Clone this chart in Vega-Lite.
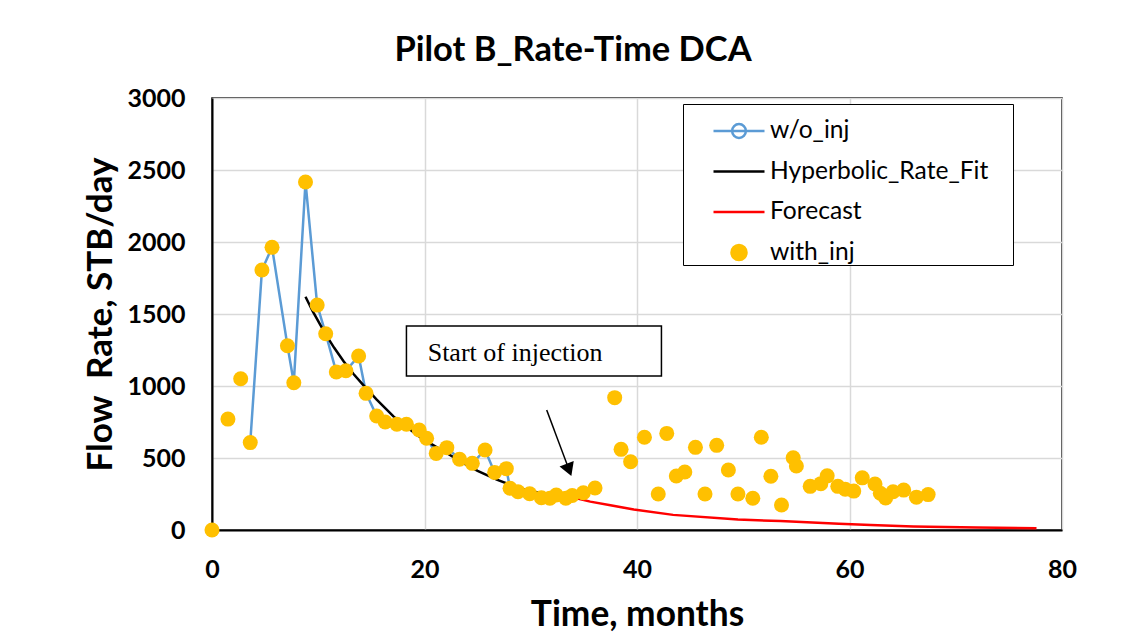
{
  "$schema": "https://vega.github.io/schema/vega-lite/v6.json",
  "width": 850,
  "height": 432,
  "autosize": "none",
  "padding": {"left": 212, "top": 98, "right": 76, "bottom": 107},
  "background": "white",
  "title": {"text": "Pilot B_Rate-Time DCA", "font": "Lato", "fontSize": 34.5, "fontWeight": "bold", "color": "black", "anchor": "middle", "dx": -64, "offset": 18},
  "config": {"view": {"stroke": "black", "strokeWidth": 1.5}, "font": "Lato"},
  "datasets": {
    "with_inj": [
      {"series": "with_inj", "t": 0, "q": 0}, {"series": "with_inj", "t": 1.5, "q": 770}, {"series": "with_inj", "t": 2.7, "q": 1050},
      {"series": "with_inj", "t": 3.6, "q": 607}, {"series": "with_inj", "t": 4.7, "q": 1806}, {"series": "with_inj", "t": 5.65, "q": 1963},
      {"series": "with_inj", "t": 7.1, "q": 1280}, {"series": "with_inj", "t": 7.7, "q": 1023}, {"series": "with_inj", "t": 8.8, "q": 2417},
      {"series": "with_inj", "t": 9.9, "q": 1562}, {"series": "with_inj", "t": 10.7, "q": 1363}, {"series": "with_inj", "t": 11.7, "q": 1097},
      {"series": "with_inj", "t": 12.6, "q": 1106}, {"series": "with_inj", "t": 13.8, "q": 1208}, {"series": "with_inj", "t": 14.5, "q": 949},
      {"series": "with_inj", "t": 15.5, "q": 792}, {"series": "with_inj", "t": 16.3, "q": 750}, {"series": "with_inj", "t": 17.4, "q": 734},
      {"series": "with_inj", "t": 18.3, "q": 734}, {"series": "with_inj", "t": 19.5, "q": 694}, {"series": "with_inj", "t": 20.2, "q": 637},
      {"series": "with_inj", "t": 21.1, "q": 532}, {"series": "with_inj", "t": 22.1, "q": 572}, {"series": "with_inj", "t": 23.3, "q": 491},
      {"series": "with_inj", "t": 24.5, "q": 463}, {"series": "with_inj", "t": 25.7, "q": 556}, {"series": "with_inj", "t": 26.6, "q": 400},
      {"series": "with_inj", "t": 27.7, "q": 426}, {"series": "with_inj", "t": 28.05, "q": 290}, {"series": "with_inj", "t": 28.8, "q": 266},
      {"series": "with_inj", "t": 29.9, "q": 252}, {"series": "with_inj", "t": 31.0, "q": 224}, {"series": "with_inj", "t": 31.8, "q": 220},
      {"series": "with_inj", "t": 32.4, "q": 243}, {"series": "with_inj", "t": 33.3, "q": 220}, {"series": "with_inj", "t": 33.9, "q": 240},
      {"series": "with_inj", "t": 34.95, "q": 259}, {"series": "with_inj", "t": 36.05, "q": 292}, {"series": "with_inj", "t": 37.9, "q": 919},
      {"series": "with_inj", "t": 38.5, "q": 560}, {"series": "with_inj", "t": 39.4, "q": 474}, {"series": "with_inj", "t": 40.7, "q": 644},
      {"series": "with_inj", "t": 42.0, "q": 250}, {"series": "with_inj", "t": 42.8, "q": 671}, {"series": "with_inj", "t": 43.7, "q": 375},
      {"series": "with_inj", "t": 44.5, "q": 403}, {"series": "with_inj", "t": 45.5, "q": 574}, {"series": "with_inj", "t": 46.4, "q": 250},
      {"series": "with_inj", "t": 47.5, "q": 588}, {"series": "with_inj", "t": 48.6, "q": 417}, {"series": "with_inj", "t": 49.5, "q": 250},
      {"series": "with_inj", "t": 50.9, "q": 220}, {"series": "with_inj", "t": 51.7, "q": 644}, {"series": "with_inj", "t": 52.6, "q": 373},
      {"series": "with_inj", "t": 53.6, "q": 174}, {"series": "with_inj", "t": 54.7, "q": 502}, {"series": "with_inj", "t": 55.0, "q": 444},
      {"series": "with_inj", "t": 56.3, "q": 303}, {"series": "with_inj", "t": 57.3, "q": 322}, {"series": "with_inj", "t": 57.9, "q": 376},
      {"series": "with_inj", "t": 58.9, "q": 303}, {"series": "with_inj", "t": 59.6, "q": 283}, {"series": "with_inj", "t": 60.4, "q": 270},
      {"series": "with_inj", "t": 61.2, "q": 362}, {"series": "with_inj", "t": 62.4, "q": 319}, {"series": "with_inj", "t": 62.9, "q": 255},
      {"series": "with_inj", "t": 63.4, "q": 222}, {"series": "with_inj", "t": 64.1, "q": 266}, {"series": "with_inj", "t": 65.1, "q": 277},
      {"series": "with_inj", "t": 66.3, "q": 228}, {"series": "with_inj", "t": 67.4, "q": 246}
    ],
    "wo_inj": [
      {"series": "w/o_inj", "t": 3.6, "q": 607}, {"series": "w/o_inj", "t": 4.7, "q": 1806}, {"series": "w/o_inj", "t": 5.65, "q": 1963},
      {"series": "w/o_inj", "t": 7.1, "q": 1280}, {"series": "w/o_inj", "t": 7.7, "q": 1023}, {"series": "w/o_inj", "t": 8.8, "q": 2417},
      {"series": "w/o_inj", "t": 9.9, "q": 1562}, {"series": "w/o_inj", "t": 10.7, "q": 1363}, {"series": "w/o_inj", "t": 11.7, "q": 1097},
      {"series": "w/o_inj", "t": 12.6, "q": 1106}, {"series": "w/o_inj", "t": 13.8, "q": 1208}, {"series": "w/o_inj", "t": 14.5, "q": 949},
      {"series": "w/o_inj", "t": 15.5, "q": 792}, {"series": "w/o_inj", "t": 16.3, "q": 750}, {"series": "w/o_inj", "t": 17.4, "q": 734},
      {"series": "w/o_inj", "t": 18.3, "q": 734}, {"series": "w/o_inj", "t": 19.5, "q": 694}, {"series": "w/o_inj", "t": 20.2, "q": 637},
      {"series": "w/o_inj", "t": 21.1, "q": 532}, {"series": "w/o_inj", "t": 22.1, "q": 572}, {"series": "w/o_inj", "t": 23.3, "q": 491},
      {"series": "w/o_inj", "t": 24.5, "q": 463}, {"series": "w/o_inj", "t": 25.7, "q": 556}, {"series": "w/o_inj", "t": 26.6, "q": 400},
      {"series": "w/o_inj", "t": 27.7, "q": 426}, {"series": "w/o_inj", "t": 28.05, "q": 290}, {"series": "w/o_inj", "t": 28.8, "q": 266},
      {"series": "w/o_inj", "t": 29.9, "q": 252}, {"series": "w/o_inj", "t": 31.0, "q": 224}, {"series": "w/o_inj", "t": 31.8, "q": 220},
      {"series": "w/o_inj", "t": 32.4, "q": 243}, {"series": "w/o_inj", "t": 33.3, "q": 220}, {"series": "w/o_inj", "t": 33.9, "q": 240},
      {"series": "w/o_inj", "t": 34.95, "q": 259}, {"series": "w/o_inj", "t": 36.05, "q": 292}
    ],
    "fit": [
      {"series": "Hyperbolic_Rate_Fit", "t": 8.8, "q": 1620}, {"series": "Hyperbolic_Rate_Fit", "t": 9.5, "q": 1516},
      {"series": "Hyperbolic_Rate_Fit", "t": 10.6, "q": 1370}, {"series": "Hyperbolic_Rate_Fit", "t": 11.5, "q": 1265},
      {"series": "Hyperbolic_Rate_Fit", "t": 12.4, "q": 1170}, {"series": "Hyperbolic_Rate_Fit", "t": 13.3, "q": 1085},
      {"series": "Hyperbolic_Rate_Fit", "t": 14.2, "q": 1010}, {"series": "Hyperbolic_Rate_Fit", "t": 15.5, "q": 905},
      {"series": "Hyperbolic_Rate_Fit", "t": 17.1, "q": 787}, {"series": "Hyperbolic_Rate_Fit", "t": 18.5, "q": 705},
      {"series": "Hyperbolic_Rate_Fit", "t": 19.5, "q": 650}, {"series": "Hyperbolic_Rate_Fit", "t": 20.5, "q": 603},
      {"series": "Hyperbolic_Rate_Fit", "t": 22.0, "q": 538}, {"series": "Hyperbolic_Rate_Fit", "t": 23.7, "q": 463},
      {"series": "Hyperbolic_Rate_Fit", "t": 25.0, "q": 410}, {"series": "Hyperbolic_Rate_Fit", "t": 26.8, "q": 350},
      {"series": "Hyperbolic_Rate_Fit", "t": 28.3, "q": 308}, {"series": "Hyperbolic_Rate_Fit", "t": 29.9, "q": 272},
      {"series": "Hyperbolic_Rate_Fit", "t": 31.5, "q": 246}, {"series": "Hyperbolic_Rate_Fit", "t": 33.0, "q": 230},
      {"series": "Hyperbolic_Rate_Fit", "t": 34.3, "q": 220}
    ],
    "forecast": [
      {"series": "Forecast", "t": 34.3, "q": 220}, {"series": "Forecast", "t": 35.6, "q": 197}, {"series": "Forecast", "t": 37.5, "q": 172},
      {"series": "Forecast", "t": 39.7, "q": 142}, {"series": "Forecast", "t": 43.4, "q": 105}, {"series": "Forecast", "t": 49.5, "q": 73},
      {"series": "Forecast", "t": 53.5, "q": 62}, {"series": "Forecast", "t": 59.0, "q": 43}, {"series": "Forecast", "t": 62.0, "q": 35},
      {"series": "Forecast", "t": 66.0, "q": 25}, {"series": "Forecast", "t": 72.0, "q": 18}, {"series": "Forecast", "t": 77.6, "q": 12}
    ],
    "box": [{"t": 18.3, "t2": 42.3, "q": 1069, "q2": 1417, "label": "Start of injection", "lt": 20.3, "lq": 1176}],
    "arrow": [{"t": 31.5, "q": 833, "t2": 33.5, "q2": 440, "ht": 33.6, "hq": 418}]
  },
  "layer": [
    {
      "data": {"name": "wo_inj"},
      "mark": {"type": "line", "strokeWidth": 2.5},
      "encoding": {
        "x": {"field": "t", "type": "quantitative", "scale": {"domain": [0, 80], "nice": false},
          "axis": {"values": [0, 20, 40, 60, 80], "title": "Time, months", "grid": true, "gridColor": "#D9D9D9", "gridWidth": 1.5,
            "domainColor": "black", "domainWidth": 2, "ticks": false, "tickSize": 0, "labelFlush": false,
            "labelFont": "Lato", "labelFontSize": 25, "labelFontWeight": "bold", "labelColor": "black", "labelPadding": 27,
            "titleFont": "Lato", "titleFontSize": 35.3, "titleFontWeight": "bold", "titleColor": "black", "titleX": 425, "titleY": 84, "titleBaseline": "middle"}},
        "y": {"field": "q", "type": "quantitative", "scale": {"domain": [0, 3000], "nice": false},
          "axis": {"values": [0, 500, 1000, 1500, 2000, 2500, 3000], "title": "Flow\u00a0 Rate, STB/day", "grid": true, "gridColor": "#D9D9D9", "gridWidth": 1.5,
            "domainColor": "black", "domainWidth": 2, "ticks": false, "tickSize": 0, "format": "d", "labelFlush": false,
            "labelFont": "Lato", "labelFontSize": 25, "labelFontWeight": "bold", "labelColor": "black", "labelPadding": 27,
            "titleFont": "Lato", "titleFontSize": 35, "titleFontWeight": "bold", "titleColor": "black", "titleX": -112, "titleY": 216, "titleBaseline": "middle", "titleAngle": -90}},
        "color": {"field": "series", "type": "nominal",
          "scale": {"domain": ["w/o_inj", "Hyperbolic_Rate_Fit", "Forecast", "with_inj"], "range": ["#5B9BD5", "#000000", "#FF0000", "#FFC000"]},
          "legend": {"title": null, "orient": "none", "legendX": 471, "legendY": 6, "direction": "vertical",
            "strokeColor": "black", "fillColor": "white", "padding": 0,
            "labelFont": "Lato", "labelFontSize": 24.6, "labelColor": "black", "labelLimit": 400,
            "labelExpr": "datum.label + '\u00a0\u2800'",
            "symbolSize": 2601, "symbolStrokeWidth": 2.5, "symbolOffset": 29, "labelOffset": 4, "rowPadding": 1.5, "symbolType": "stroke",
            "encode": {"symbols": {"update": {
              "shape": {"signal": "datum.value === 'with_inj' ? 'circle' : datum.value === 'w/o_inj' ? 'M-1,0H1M0.27,0A0.27,0.27 0 1 1 -0.27,0A0.27,0.27 0 1 1 0.27,0M0.27,0A0.27,0.27 0 1 0 -0.27,0A0.27,0.27 0 1 0 0.27,0' : 'stroke'"},
              "size": {"signal": "datum.value === 'with_inj' ? 225 : 2601"},
              "fill": {"signal": "datum.value === 'with_inj' ? '#FFC000' : 'transparent'"},
              "stroke": {"signal": "datum.value === 'with_inj' ? 'transparent' : datum.value === 'w/o_inj' ? '#5B9BD5' : datum.value === 'Forecast' ? '#FF0000' : '#000000'"},
              "strokeWidth": {"value": 2.5},
              "opacity": {"value": 1}
            }}}}
        }
      }
    },
    {
      "data": {"name": "fit"},
      "mark": {"type": "line", "strokeWidth": 2.5},
      "encoding": {"x": {"field": "t", "type": "quantitative"}, "y": {"field": "q", "type": "quantitative"}, "color": {"field": "series", "type": "nominal"}}
    },
    {
      "data": {"name": "forecast"},
      "mark": {"type": "line", "strokeWidth": 2.5},
      "encoding": {"x": {"field": "t", "type": "quantitative"}, "y": {"field": "q", "type": "quantitative"}, "color": {"field": "series", "type": "nominal"}}
    },
    {
      "data": {"name": "box"},
      "mark": {"type": "rect", "fill": "white", "stroke": "black", "strokeWidth": 1.5},
      "encoding": {"x": {"field": "t", "type": "quantitative"}, "x2": {"field": "t2"}, "y": {"field": "q", "type": "quantitative"}, "y2": {"field": "q2"}}
    },
    {
      "data": {"name": "box"},
      "mark": {"type": "text", "font": "Liberation Serif", "fontSize": 26, "align": "left", "baseline": "alphabetic", "color": "black"},
      "encoding": {"x": {"field": "lt", "type": "quantitative"}, "y": {"field": "lq", "type": "quantitative"}, "text": {"field": "label"}}
    },
    {
      "data": {"name": "arrow"},
      "mark": {"type": "rule", "color": "black", "strokeWidth": 1.5},
      "encoding": {"x": {"field": "t", "type": "quantitative"}, "y": {"field": "q", "type": "quantitative"}, "x2": {"field": "t2"}, "y2": {"field": "q2"}}
    },
    {
      "data": {"name": "arrow"},
      "mark": {"type": "point", "shape": "triangle-down", "filled": true, "color": "black", "size": 231, "angle": 339, "opacity": 1},
      "encoding": {"x": {"field": "ht", "type": "quantitative"}, "y": {"field": "hq", "type": "quantitative"}}
    },
    {
      "data": {"name": "with_inj"},
      "mark": {"type": "point", "filled": true, "size": 225, "opacity": 1},
      "encoding": {"x": {"field": "t", "type": "quantitative"}, "y": {"field": "q", "type": "quantitative"}, "color": {"field": "series", "type": "nominal"}}
    }
  ]
}
